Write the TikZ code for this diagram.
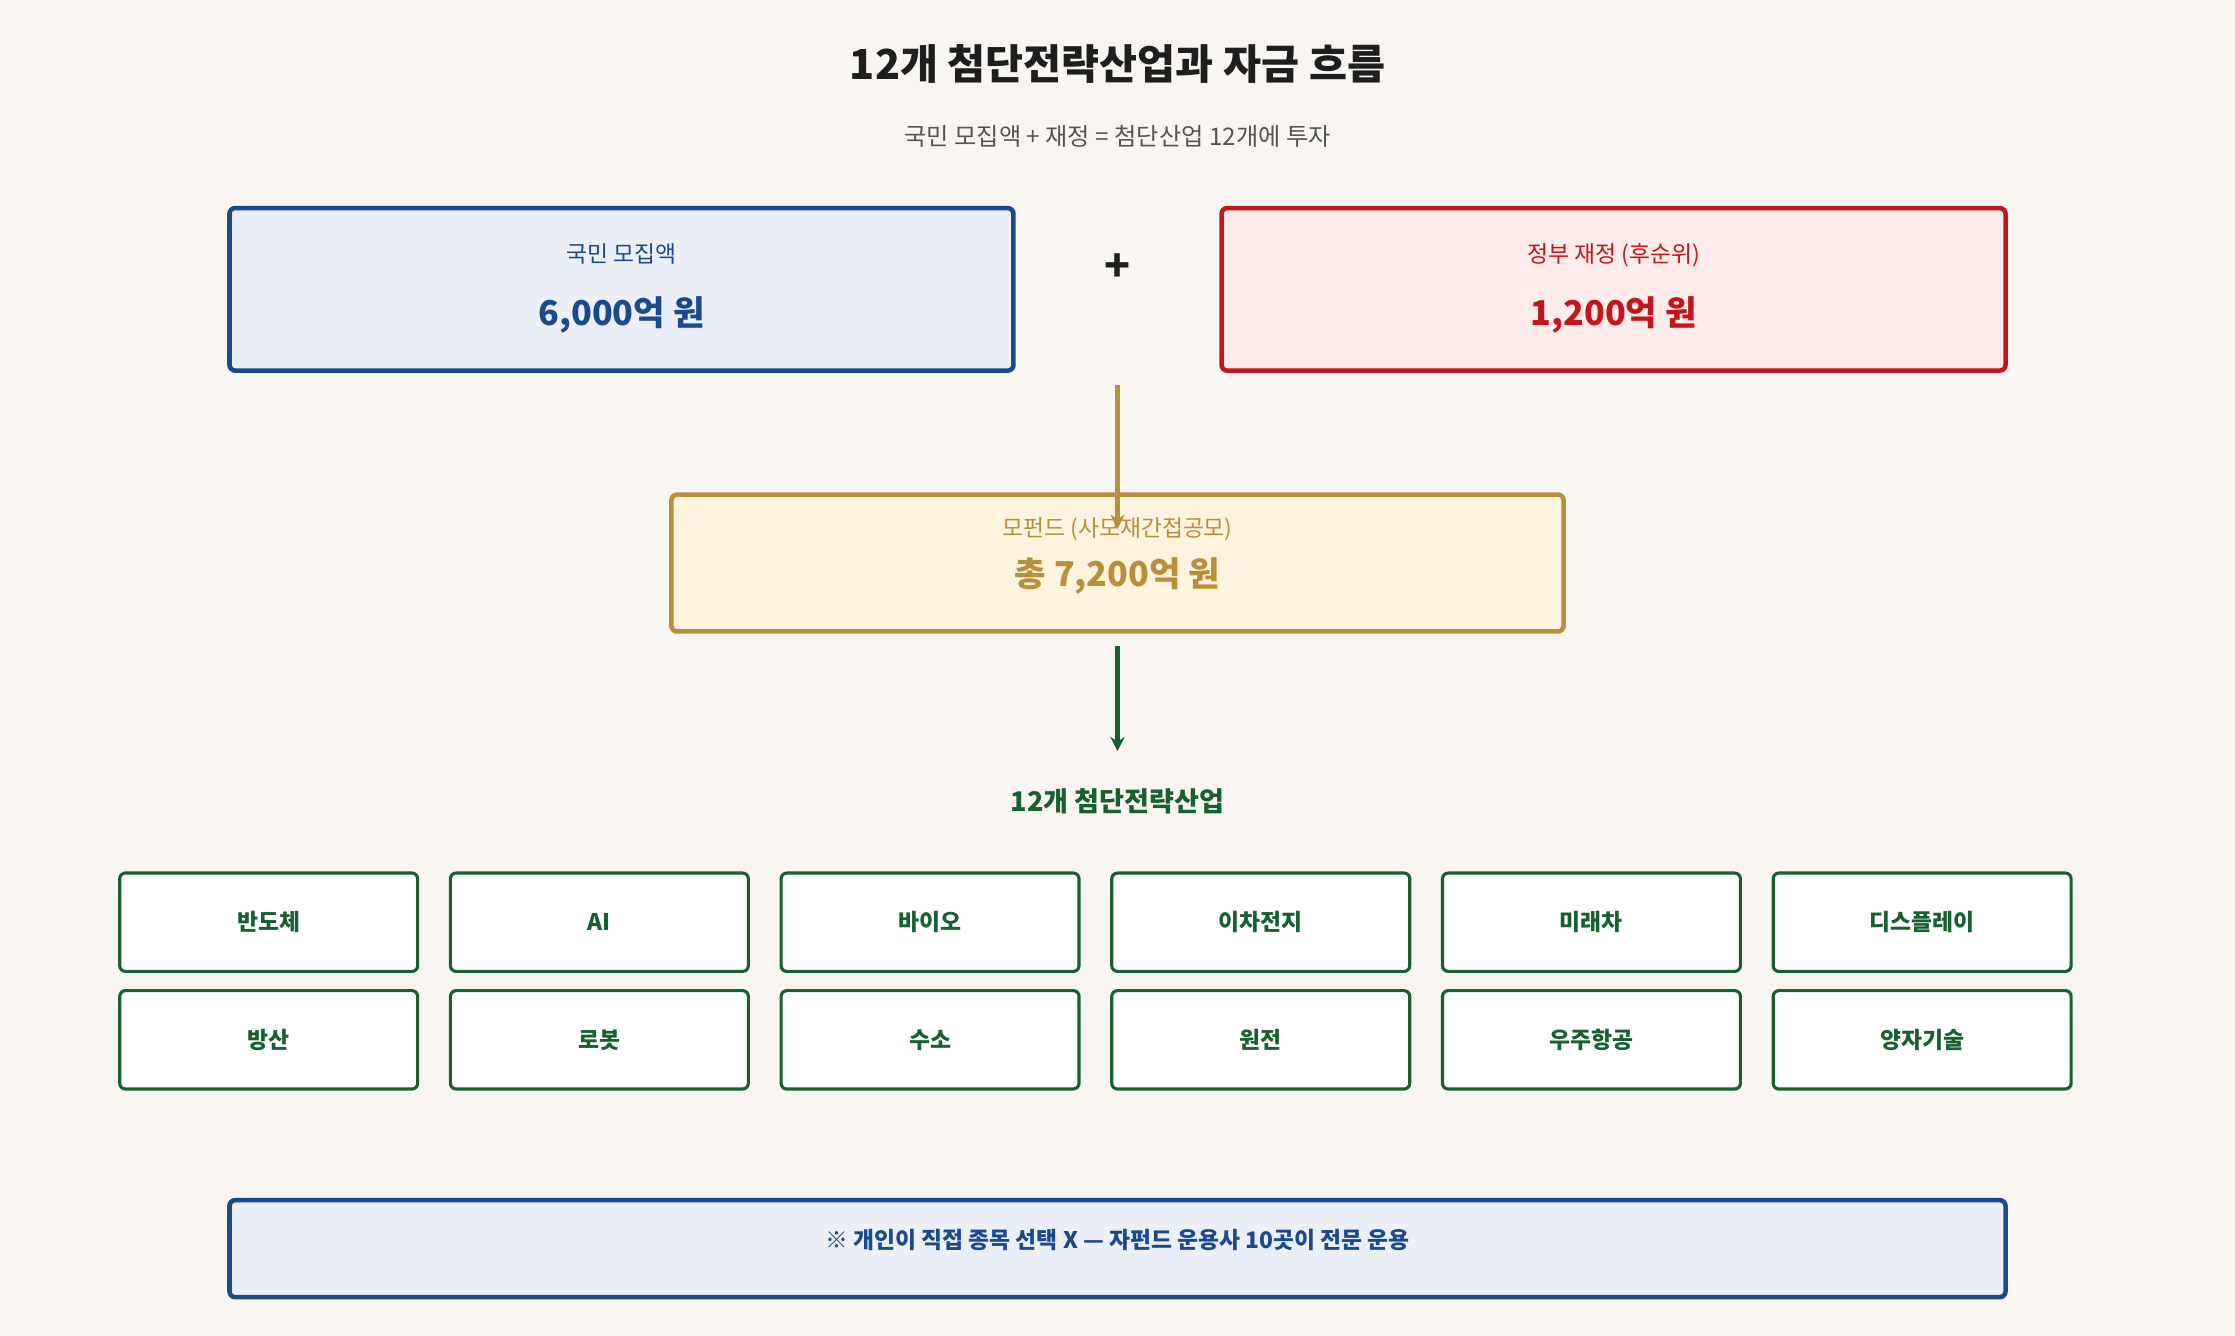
\documentclass[tikz,border=0pt]{standalone}
\usepackage{fontspec}
\setmainfont{Noto Sans CJK KR}
\usetikzlibrary{arrows.meta}
\definecolor{bg}{HTML}{F9F6F1}
\definecolor{cblue}{HTML}{1B4A8C}
\definecolor{fblue}{HTML}{EAEFF8}
\definecolor{cred}{HTML}{C4141C}
\definecolor{fred}{HTML}{FDECEA}
\definecolor{cgold}{HTML}{B98F3C}
\definecolor{fgold}{HTML}{FDF3DE}
\definecolor{cgreen}{HTML}{17602F}
\definecolor{ctext}{HTML}{1E1E1E}
\definecolor{cgray}{HTML}{555555}
\begin{document}
\begin{tikzpicture}[x=0.5pt,y=-0.5pt,
  box/.style={draw, line width=1.6pt, rounded corners=2pt},
  cell/.style={draw=cgreen, fill=white, line width=1.1pt, rounded corners=2pt, minimum width=104.5pt, minimum height=34.5pt, text=cgreen, font=\fontsize{8}{9}\selectfont\bfseries},
  lbl/.style={font=\fontsize{8}{9}\selectfont},
  amt/.style={font=\fontsize{12}{14}\selectfont\bfseries}]
\fill[bg] (0,0) rectangle (1568,937);
\node[text=ctext, font=\fontsize{14.5}{16}\selectfont\bfseries] (title) at (784,45) {12개 첨단전략산업과 자금 흐름};
\node[text=cgray, font=\fontsize{8.5}{10}\selectfont] (sub) at (784,96) {국민 모집액 + 재정 = 첨단산업 12개에 투자};
\draw[box, draw=cblue, fill=fblue] (161,146) rectangle (711,260);
\node[lbl, text=cblue] (l1) at (436,178) {국민 모집액};
\node[amt, text=cblue] (a1) at (436,221) {6,000억 원};
\draw[box, draw=cred, fill=fred] (857,146) rectangle (1407,260);
\node[lbl, text=cred] (l2) at (1132,179) {정부 재정 (후순위)};
\node[amt, text=cred] (a2) at (1132,221) {1,200억 원};
\node[text=ctext, font=\fontsize{15}{16}\selectfont\bfseries] (plus) at (784,188) {+};
\draw[box, draw=cgold, fill=fgold] (471,347) rectangle (1097,443);
\node[lbl, text=cgold] (l3) at (784,371) {모펀드 (사모재간접공모)};
\node[amt, text=cgold] (a3) at (784,404) {총 7,200억 원};
\coordinate (g1) at (784,270); \coordinate (g2) at (784,371);
\draw[cgold, line width=2pt, -{Stealth[length=5pt,width=5pt]}] (g1) -- (g2);
\coordinate (h1) at (784,453); \coordinate (h2) at (784,527);
\draw[cgreen, line width=2pt, -{Stealth[length=5pt,width=5pt]}] (h1) -- (h2);
\node[text=cgreen, font=\fontsize{9.5}{11}\selectfont\bfseries] (head) at (784,562) {12개 첨단전략산업};
\foreach \t [count=\i from 0] in {반도체,AI,바이오,이차전지,미래차,디스플레이}
  \node[cell] (r1c\i) at (188.5+232*\i,647) {\t};
\foreach \t [count=\i from 0] in {방산,로봇,수소,원전,우주항공,양자기술}
  \node[cell] (r2c\i) at (188.5+232*\i,729.5) {\t};
\draw[box, draw=cblue, fill=fblue] (161,842) rectangle (1407,910);
\node[text=cblue, font=\fontsize{8}{9}\selectfont\bfseries] (note) at (784,870) {※ 개인이 직접 종목 선택 X — 자펀드 운용사 10곳이 전문 운용};
\end{tikzpicture}
\end{document}
